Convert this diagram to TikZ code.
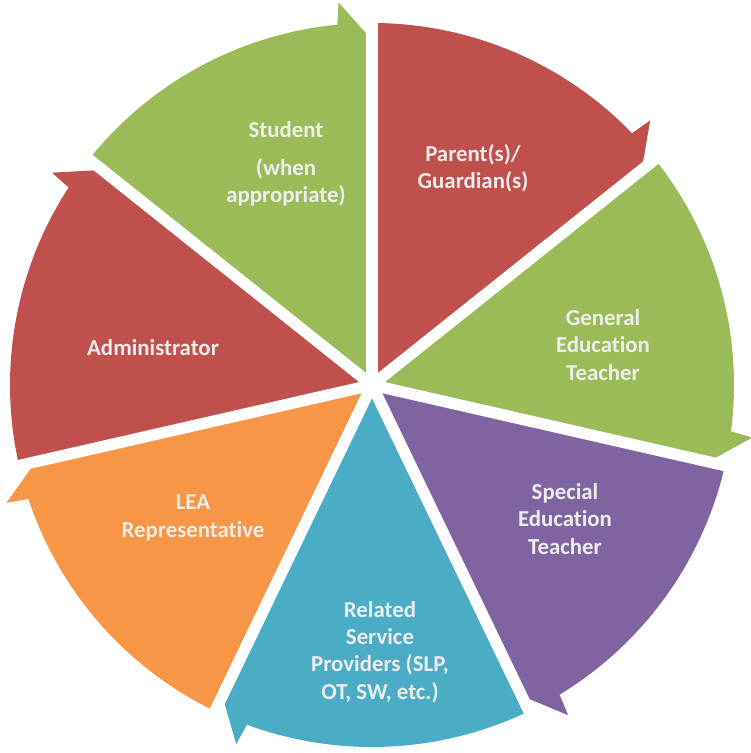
\documentclass[tikz,border=0pt]{standalone}
\usepackage{fontspec}
\setmainfont[Ligatures=NoCommon]{Carlito}
\definecolor{segred}{HTML}{C0504D}
\definecolor{seggreen}{HTML}{9BBB59}
\definecolor{segpurple}{HTML}{8064A2}
\definecolor{segteal}{HTML}{4BACC6}
\definecolor{segorange}{HTML}{F79646}
\tikzset{
  member/.style={align=center, inner sep=0pt, text=white!93!black,
    font=\fontsize{13}{15.5}\selectfont\bfseries},
  gap/.style={white, line width=6.5pt}
}
\begin{document}
\begin{tikzpicture}[x=0.02cm, y=0.02cm]
			\useasboundingbox (-372,-368) rectangle (378,385);
			\coordinate (o) at (0,0);
			
			\fill[segred] (o) -- (90:362) arc[start angle=90, end angle=44.07, radius=362] -- (43.57:384) -- (38.57:345) -- cycle;
			\fill[seggreen] (o) -- (38.57:362) arc[start angle=38.57, end angle=-7.36, radius=362] -- (-7.86:384) -- (-12.86:345) -- cycle;
			\fill[segpurple] (o) -- (-12.86:362) arc[start angle=-12.86, end angle=-58.79, radius=362] -- (-59.29:384) -- (-64.29:345) -- cycle;
			\fill[segteal] (o) -- (-64.29:362) arc[start angle=-64.29, end angle=-110.21, radius=362] -- (-110.71:384) -- (-115.71:345) -- cycle;
			\fill[segorange] (o) -- (-115.71:362) arc[start angle=-115.71, end angle=-161.64, radius=362] -- (-162.14:384) -- (-167.14:345) -- cycle;
			\fill[segred] (o) -- (192.86:362) arc[start angle=192.86, end angle=146.93, radius=362] -- (146.43:384) -- (141.43:345) -- cycle;
			\fill[seggreen] (o) -- (141.43:362) arc[start angle=141.43, end angle=95.5, radius=362] -- (95:384) -- (90:345) -- cycle;
			
			\draw[gap] (o) -- (90:400);
			\draw[gap] (o) -- (38.57:400);
			\draw[gap] (o) -- (-12.86:400);
			\draw[gap] (o) -- (-64.29:400);
			\draw[gap] (o) -- (-115.71:400);
			\draw[gap] (o) -- (-167.14:400);
			\draw[gap] (o) -- (141.43:400);
			\fill[white] (o) circle (13);
			
			\node[member] (student) at (-86,221) {Student\\[0.45em](when\\appropriate)};
			\node[member] (parent) at (101,217) {Parent(s)/\\Guardian(s)};
			\node[member] (gened) at (231,40) {General\\Education\\Teacher};
			\node[member] (sped) at (193,-134) {Special\\Education\\Teacher};
			\node[member] (related) at (8,-267) {Related\\Service\\Providers (SLP,\\OT, SW, etc.)};
			\node[member] (lea) at (-179,-133) {LEA\\Representative};
			\node[member] (admin) at (-219,37) {Administrator};
		\end{tikzpicture}
\end{document}
